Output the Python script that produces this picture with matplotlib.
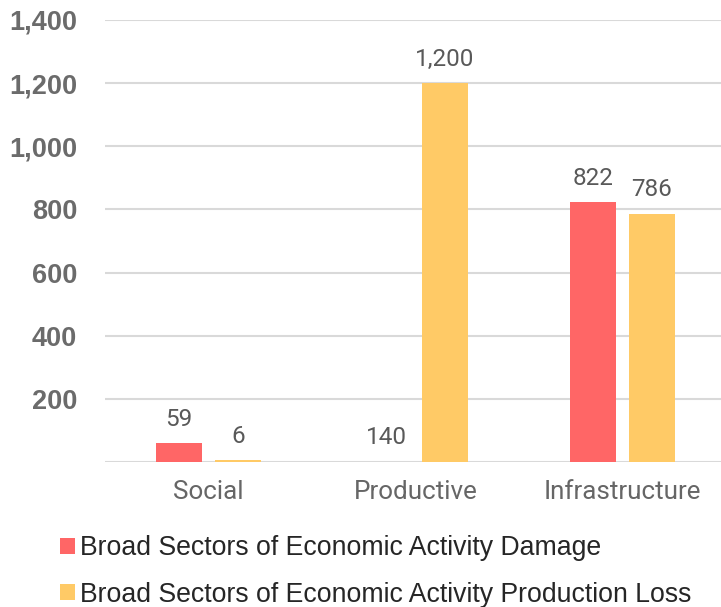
import matplotlib
matplotlib.use("Agg")
import matplotlib.pyplot as plt
import numpy as np

categories = ["Social", "Productive", "Infrastructure"]
damage = [59, 0, 822]
damage_labels = ["59", "140", "822"]
loss = [6, 1200, 786]
loss_labels = ["6", "1,200", "786"]
series_names = ["Broad Sectors of Economic Activity Damage",
                "Broad Sectors of Economic Activity Production Loss"]
yticks = [200, 400, 600, 800, 1000, 1200, 1400]
ytick_labels = ["200", "400", "600", "800", "1,000", "1,200", "1,400"]

RED = "#FF6666"
YEL = "#FFCA66"

fig = plt.figure(figsize=(7.21, 6.07), dpi=100)
ax = fig.add_axes([105/721, 145/607, 621/721, 442/607])

x = np.arange(len(categories))
w = 0.222
off = 0.1425
b1 = ax.bar(x - off, damage, w, color=RED, label=series_names[0], zorder=3)
b2 = ax.bar(x + off, loss, w, color=YEL, label=series_names[1], zorder=3)

for bars, labs in ((b1, damage_labels), (b2, loss_labels)):
    for r, t in zip(bars, labs):
        ax.annotate(t, (r.get_x() + r.get_width()/2, r.get_height()),
                    xytext=(0, 9), textcoords="offset points",
                    ha="center", va="bottom", fontsize=17.5,
                    family="Roboto", color="#595959")

ax.set_xlim(-0.5, 2.5)
ax.set_ylim(0, 1400)
ax.set_yticks([0] + yticks)
ax.set_yticklabels([""] + ytick_labels, fontsize=19.5, fontweight="bold",
                   family="Liberation Sans", color="#6b6b6b")
ax.set_xticks(x)
ax.set_xticklabels(categories, fontsize=18.7, family="Roboto", color="#666666")
ax.tick_params(axis="x", length=0, pad=13)
ax.tick_params(axis="y", length=0, pad=20)
ax.yaxis.grid(True, color="#d9d9d9", linewidth=1.5, zorder=0)
for s in ax.spines.values():
    s.set_visible(False)

handles = [b1, b2]
leg = fig.legend(handles, series_names, loc="upper left",
                 bbox_to_anchor=(60/721, 1 - 535/607), frameon=False,
                 prop={"family": "Liberation Sans", "size": 19.2},
                 handlelength=0.55, handleheight=0.55, handletextpad=0.2,
                 labelspacing=0.78, borderaxespad=0, borderpad=0)
for t in leg.get_texts():
    t.set_color("#262626")

fig.savefig("out.png", dpi=100)
